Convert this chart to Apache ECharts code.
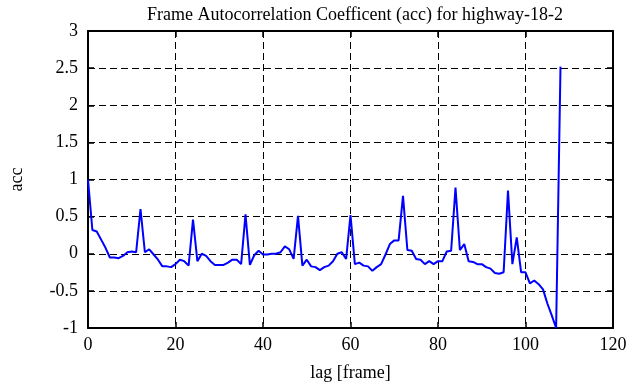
<!DOCTYPE html>
<html>
<head>
<meta charset="utf-8">
<script src="https://cdn.jsdelivr.net/npm/echarts@6/dist/echarts.min.js"></script>
<style>
html,body{margin:0;padding:0;background:#fff;}
#chart{width:635px;height:387px;}
</style>
</head>
<body>
<div id="chart"></div>
<script>
const titleText = 'Frame Autocorrelation Coefficent (acc) for highway-18-2';
const xName = 'lag [frame]';
const yName = 'acc';
const xTicks = [0, 20, 40, 60, 80, 100, 120];
const yTicks = [-1, -0.5, 0, 0.5, 1, 1.5, 2, 2.5, 3];
const accValues = [
  1.00, 0.32, 0.30, 0.19, 0.08, -0.05, -0.05, -0.06, -0.03, 0.02,
  0.03, 0.02, 0.60, 0.02, 0.06, -0.01, -0.08, -0.17, -0.17, -0.18,
  -0.14, -0.08, -0.10, -0.16, 0.46, -0.10, 0.00, -0.03, -0.10, -0.15,
  -0.15, -0.15, -0.12, -0.08, -0.08, -0.14, 0.53, -0.15, -0.02, 0.04,
  -0.01, -0.01, 0.00, 0.00, 0.02, 0.10, 0.06, -0.07, 0.51, -0.16,
  -0.08, -0.17, -0.18, -0.22, -0.18, -0.16, -0.10, 0.00, 0.02, -0.07,
  0.52, -0.14, -0.12, -0.16, -0.17, -0.23, -0.18, -0.14, -0.01, 0.13,
  0.18, 0.18, 0.78, 0.05, 0.04, -0.07, -0.08, -0.14, -0.10, -0.14,
  -0.10, -0.10, 0.03, 0.04, 0.89, 0.05, 0.13, -0.10, -0.11, -0.14,
  -0.14, -0.18, -0.20, -0.26, -0.27, -0.25, 0.85, -0.14, 0.22, -0.25,
  -0.25, -0.40, -0.36, -0.41, -0.48, -0.67, -0.83, -1.00, 2.52
];
const lags = accValues.map((_, i) => i);

const FONT = 'Liberation Serif';
const chart = echarts.init(document.getElementById('chart'), null, {renderer: 'canvas'});

const baseX = {
  type: 'value', min: xTicks[0], max: xTicks[xTicks.length - 1], interval: xTicks[1] - xTicks[0]
};
const baseY = {
  type: 'value', min: yTicks[0], max: yTicks[yTicks.length - 1], interval: yTicks[1] - yTicks[0]
};
const lineStyleAxis = {show: true, onZero: false, lineStyle: {color: '#000', width: 2}};
const tickStyle = {show: true, inside: true, length: 6, lineStyle: {color: '#000', width: 1.5}};

chart.setOption({
  animation: false,
  backgroundColor: '#fff',
  title: {
    text: titleText,
    left: 350,
    top: 1,
    textAlign: 'center',
    textStyle: {fontFamily: FONT, fontSize: 18, fontWeight: 'normal', color: '#000'}
  },
  grid: {left: 86, right: 22, top: 31, bottom: 56, containLabel: false},
  xAxis: [
    Object.assign({}, baseX, {
      position: 'bottom',
      name: xName, nameLocation: 'middle', nameGap: 36,
      nameTextStyle: {fontFamily: FONT, fontSize: 18, color: '#000'},
      axisLine: lineStyleAxis,
      axisTick: tickStyle,
      axisLabel: {fontFamily: FONT, fontSize: 18, color: '#000', margin: 8},
      splitLine: {show: true, lineStyle: {color: '#000', width: 1, type: [7, 4]}}
    }),
    Object.assign({}, baseX, {
      position: 'top',
      axisLine: lineStyleAxis,
      axisTick: tickStyle,
      axisLabel: {show: false},
      splitLine: {show: false}
    })
  ],
  yAxis: [
    Object.assign({}, baseY, {
      position: 'left',
      name: yName, nameLocation: 'middle', nameGap: 62,
      nameTextStyle: {fontFamily: FONT, fontSize: 18, color: '#000'},
      axisLine: lineStyleAxis,
      axisTick: tickStyle,
      axisLabel: {fontFamily: FONT, fontSize: 18, color: '#000', margin: 10},
      splitLine: {show: true, lineStyle: {color: '#000', width: 1, type: [7, 4]}}
    }),
    Object.assign({}, baseY, {
      position: 'right',
      axisLine: lineStyleAxis,
      axisTick: tickStyle,
      axisLabel: {show: false},
      splitLine: {show: false}
    })
  ],
  series: [{
    type: 'line',
    xAxisIndex: 0,
    yAxisIndex: 0,
    data: lags.map((l, i) => [l, accValues[i]]),
    showSymbol: false,
    symbol: 'none',
    lineStyle: {color: '#0000ff', width: 2},
    clip: false
  }]
});
</script>
</body>
</html>
